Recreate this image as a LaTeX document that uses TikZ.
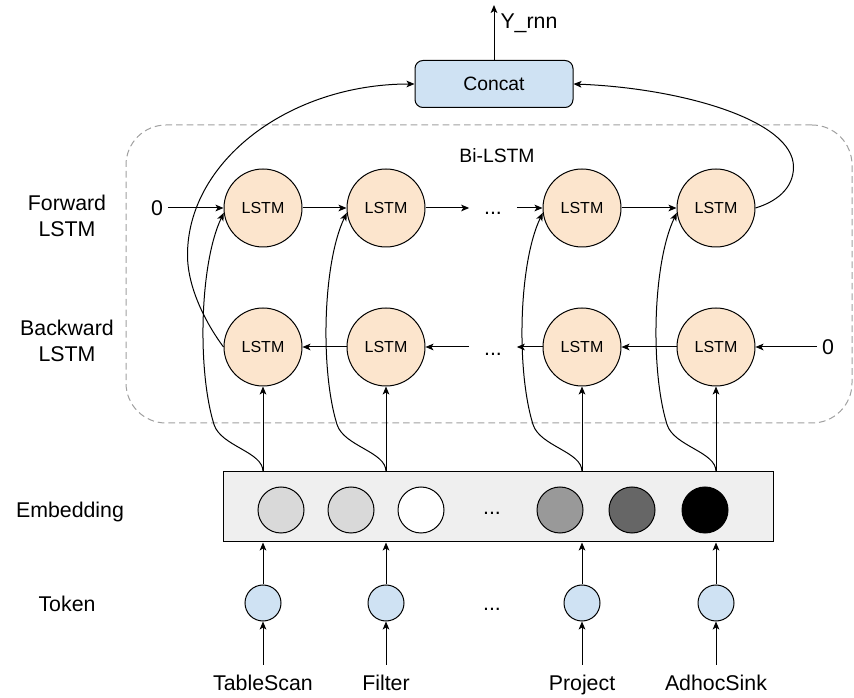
\documentclass[tikz,border=0pt]{standalone}
\usepackage{fontspec}
\setmainfont{Liberation Sans}
\usepackage{tikz}
\usetikzlibrary{arrows.meta}

\definecolor{lstmfill}{HTML}{FCE5CD}
\definecolor{tokfill}{HTML}{CFE2F3}
\definecolor{embback}{HTML}{EFEFEF}
\definecolor{embgray}{HTML}{D9D9D9}
\definecolor{embmid}{HTML}{999999}
\definecolor{embdark}{HTML}{666666}
\definecolor{framegray}{HTML}{A0A0A0}

\begin{document}
\begin{tikzpicture}[x=0.75pt, y=0.75pt, line width=0.75pt,
  >={Stealth[length=6pt, width=5pt, inset=1.5pt]},
  lstm/.style={draw, circle, fill=lstmfill, minimum size=58.5pt, inner sep=0pt, font=\fontsize{12}{14}\selectfont},
  tok/.style={draw, circle, fill=tokfill, minimum size=27pt, inner sep=0pt},
  embdot/.style={draw, circle, minimum size=34.5pt, inner sep=0pt},
  lbl/.style={font=\fontsize{16}{19.5}\selectfont},
  ellip/.style={lbl, inner sep=0pt, minimum width=35pt, anchor=base}]
  \useasboundingbox (0,0) rectangle (854,-698);

  % Frame and output
  \node[draw=framegray, dash pattern=on 5pt off 3pt, rounded corners=30pt, minimum width=544.5pt, minimum height=223.5pt] (frame) at (489,-274) {};
  \node[anchor=base, font=\fontsize{14.5}{17}\selectfont] (bilstm) at (497,-163) {Bi-LSTM};
  \node[draw, fill=tokfill, rounded corners=6pt, minimum width=118.5pt, minimum height=35.25pt, font=\fontsize{14.5}{17}\selectfont] (concat) at (494,-84) {Concat};
  \coordinate (yout) at (494,-5);
  \node[lbl, anchor=base west, inner sep=0pt] (yrnn) at (500,-29) {Y\_rnn};

  % LSTM cells
  \node[lstm] (f1) at (263,-208) {LSTM};
  \node[lstm] (f2) at (386,-208) {LSTM};
  \node[lstm] (f3) at (582,-208) {LSTM};
  \node[lstm] (f4) at (716,-208) {LSTM};
  \node[lstm] (b1) at (263,-347) {LSTM};
  \node[lstm] (b2) at (386,-347) {LSTM};
  \node[lstm] (b3) at (582,-347) {LSTM};
  \node[lstm] (b4) at (716,-347) {LSTM};
  \node[lbl] (fzero) at (157,-208) {0};
  \node[lbl] (bzero) at (828,-347) {0};
  \node[ellip] (fdots) at (493,-215) {...};
  \node[ellip] (bdots) at (493,-356) {...};

  % Embedding
  \node[draw, fill=embback, minimum width=412.5pt, minimum height=52.5pt] (emb) at (498,-507) {};
  \node[embdot, fill=embgray] (e1) at (281,-510) {};
  \node[embdot, fill=embgray] (e2) at (351,-510) {};
  \node[embdot, fill=white] (e3) at (421,-510) {};
  \node[ellip] (edots) at (492,-515) {...};
  \node[embdot, fill=embmid] (e4) at (560,-510) {};
  \node[embdot, fill=embdark] (e5) at (632,-510) {};
  \node[embdot, fill=black] (e6) at (705,-510) {};

  % Tokens
  \node[tok] (t1) at (263,-603) {};
  \node[tok] (t2) at (386,-603) {};
  \node[ellip] (tdots) at (492,-610) {...};
  \node[tok] (t3) at (582,-603) {};
  \node[tok] (t4) at (716,-603) {};
  \node[lbl, anchor=base, inner sep=7pt] (l1) at (263,-690) {TableScan};
  \node[lbl, anchor=base, inner sep=7pt] (l2) at (386,-690) {Filter};
  \node[lbl, anchor=base, inner sep=7pt] (l3) at (582,-690) {Project};
  \node[lbl, anchor=base, inner sep=7pt] (l4) at (716,-690) {AdhocSink};

  % Row labels
  \node[lbl, align=center] (rowf) at (67,-216) {Forward\\LSTM};
  \node[lbl, align=center] (rowb) at (67,-341) {Backward\\LSTM};
  \node[lbl, anchor=base] (rowe) at (70,-518) {Embedding};
  \node[lbl, anchor=base] (rowt) at (67,-612) {Token};

  % Arrows
  \draw[->] (concat) -- (yout);
  \draw[->] (fzero) -- (f1);
  \draw[->] (f1) -- (f2);
  \draw[->] (f2.east) -- (f2.east -| fdots.west);
  \draw[->] (f3.west -| fdots.east) -- (f3.west);
  \draw[->] (f3) -- (f4);
  \draw[->] (bzero) -- (b4);
  \draw[->] (b4) -- (b3);
  \draw[->] (b3.west) -- (b3.west -| bdots.east);
  \draw[->] (b2.east -| bdots.west) -- (b2.east);
  \draw[->] (b2) -- (b1);

  \draw[->] (l1) -- (t1);
  \draw[->] (l2) -- (t2);
  \draw[->] (l3) -- (t3);
  \draw[->] (l4) -- (t4);
  \draw[->] (t1) -- (t1 |- emb.south);
  \draw[->] (t2) -- (t2 |- emb.south);
  \draw[->] (t3) -- (t3 |- emb.south);
  \draw[->] (t4) -- (t4 |- emb.south);
  \draw[->] (b1 |- emb.north) -- (b1);
  \draw[->] (b2 |- emb.north) -- (b2);
  \draw[->] (b3 |- emb.north) -- (b3);
  \draw[->] (b4 |- emb.north) -- (b4);

  % Embedding to forward cells
  \draw[->] (b1 |- emb.north) .. controls +(0,20) and +(7,-22) .. ++(-49,47) .. controls +(-17,55) and +(-24,-50) .. (f1.187);
  \draw[->] (b2 |- emb.north) .. controls +(0,20) and +(7,-22) .. ++(-49,47) .. controls +(-17,55) and +(-24,-50) .. (f2.187);
  \draw[->] (b3 |- emb.north) .. controls +(0,20) and +(7,-22) .. ++(-49,47) .. controls +(-17,55) and +(-24,-50) .. (f3.187);
  \draw[->] (b4 |- emb.north) .. controls +(0,20) and +(7,-22) .. ++(-49,47) .. controls +(-17,55) and +(-24,-50) .. (f4.187);

  % Outputs to concat
  \draw[->] (b1.west) .. controls +(-15,20) and +(0,-35) .. ++(-36,92) .. controls +(0,94) and +(-125,0) .. (concat.west);
  \draw[->] (f4.east) .. controls +(20,6) and +(0,-22) .. ++(38,41) .. controls +(0,47) and +(107,-4) .. (concat.east);
\end{tikzpicture}
\end{document}
